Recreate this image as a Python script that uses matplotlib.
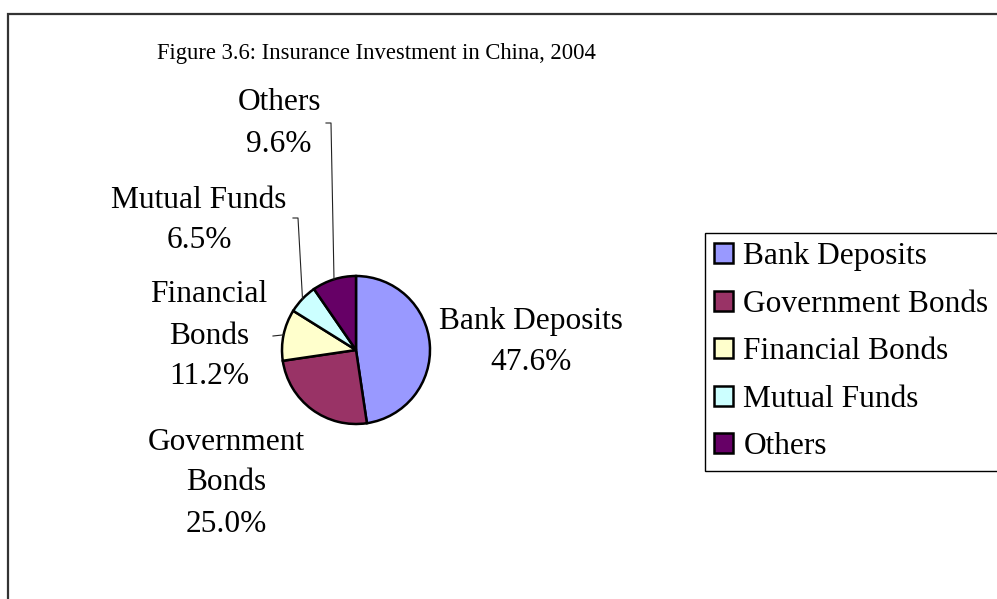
# -*- coding: utf-8 -*-

import matplotlib.pyplot as plt
import numpy as np

# insurance fund allocation, 2004 (percent)
categories = ['Bank Deposits', 'Government Bonds', 'Financial Bonds',
              'Mutual Funds', 'Others']
label_text = ['Bank Deposits', 'Government\nBonds', 'Financial\nBonds',
              'Mutual Funds', 'Others']
shares = [47.6, 25.0, 11.2, 6.5, 9.6]
colors = ['#9999FF', '#993366', '#FFFFCC', '#CCFFFF', '#660066']

W, H = 997, 599
FONT = 'Liberation Serif'
LABEL_SIZE = 22.6


def px(x, y):
    # screen-style (top-left origin) pixel position to axes data coords
    return x, H - y


fig = plt.figure(figsize=(W / 100, H / 100), dpi=100)
ax = fig.add_axes([0, 0, 1, 1])

cx, cy = px(356, 350)
radius = 74
wedges, _ = ax.pie(shares, colors=colors, startangle=90, counterclock=False,
                   center=(cx, cy), radius=radius,
                   wedgeprops=dict(edgecolor='black', linewidth=1.8))
ax.set_xlim(0, W)
ax.set_ylim(0, H)
ax.set_aspect('equal')
ax.axis('off')

# chart area border (left and top edges only are in view)
ax.plot([8, 8, W + 5], [-5, H - 14, H - 14], color='#333333', lw=1.6,
        solid_joinstyle='miter', clip_on=False)

ax.text(*px(376, 53), 'Figure 3.6: Insurance Investment in China, 2004',
        ha='center', va='center', fontsize=16.3, family=FONT)

# data labels: centre x and top line centre y of each label block
label_pos = [(531, 321), (226, 442), (209, 295), (199, 200), (279, 103)]
for name, val, (lx, ly) in zip(label_text, shares, label_pos):
    lines = name.split('\n') + ['%.1f%%' % val]
    for i, line in enumerate(lines):
        ax.text(*px(lx, ly + i * 41), line, ha='center', va='center',
                fontsize=LABEL_SIZE, family=FONT)

# leader lines from label to the middle of the wedge edge
leaders = {2: [(273, 336)], 3: [(293, 218), (298, 218)],
           4: [(326, 123), (331, 123)]}
for idx, pts in leaders.items():
    w = wedges[idx]
    mid = np.deg2rad((w.theta1 + w.theta2) / 2)
    ex, ey = cx + radius * np.cos(mid), cy + radius * np.sin(mid)
    xs = [p[0] for p in pts] + [ex]
    ys = [H - p[1] for p in pts] + [ey]
    ax.plot(xs, ys, color='#222222', lw=0.8)

leg = ax.legend(wedges, categories, loc='upper left',
                bbox_to_anchor=(705 / W, 1 - 233 / H),
                prop=dict(family=FONT, size=LABEL_SIZE),
                handlelength=0.6, handleheight=0.6, handletextpad=0.32,
                labelspacing=0.59, borderpad=0.3, borderaxespad=0,
                fancybox=False, edgecolor='black', framealpha=1)
leg.get_frame().set_linewidth(1.0)
for h in leg.legend_handles:
    h.set_linewidth(1.8)

fig.savefig('out.png', dpi=100)
